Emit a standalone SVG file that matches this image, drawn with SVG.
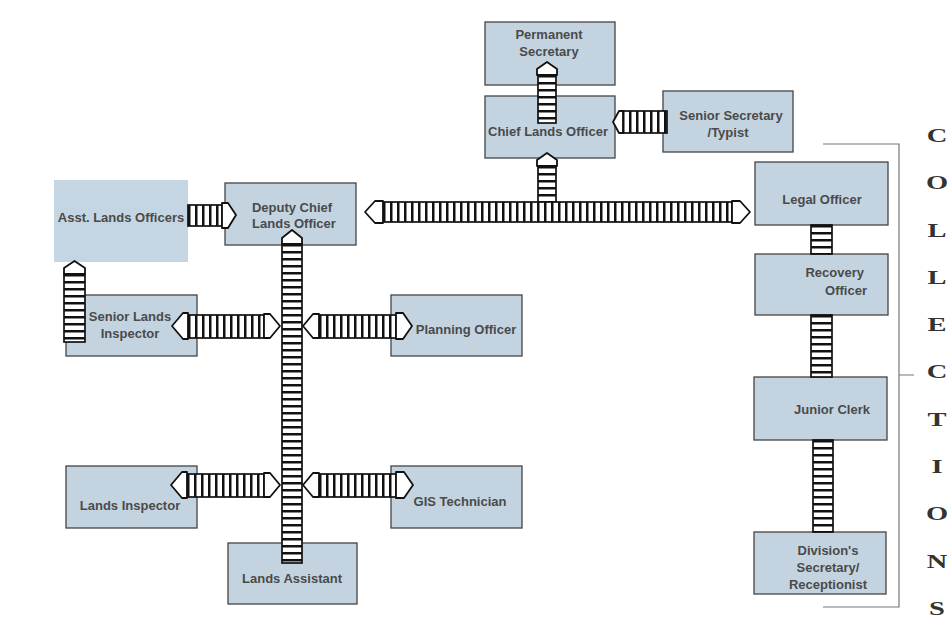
<svg xmlns="http://www.w3.org/2000/svg" width="947" height="622" viewBox="0 0 947 622">
<style>
.box{fill:#c3d4e0;stroke:#444;stroke-width:1.3}
.nb{fill:#c4d6e3;stroke:none}
.t{font-family:"Liberation Sans",Arial,sans-serif;font-weight:bold;font-size:13px;fill:#4a4a4a;text-anchor:middle}
.band{fill:#fff;stroke:#111;stroke-width:1.7}
.rh{stroke:#111;fill:none;stroke-dasharray:2.5 4.5}
.ah{fill:#fff;stroke:#111;stroke-width:1.8;stroke-linejoin:round}
.lt{font-family:"Liberation Serif","Times New Roman",serif;font-weight:bold;font-size:19px;fill:#333;text-anchor:middle}
.br{fill:none;stroke:#777;stroke-width:1.2}
</style>
<rect width="947" height="622" fill="#fff"/>

<g id="permanent-secretary"><rect class="box" x="485" y="22" width="130" height="63"/><text class="t" x="549" y="39">Permanent</text><text class="t" x="549" y="56">Secretary</text></g>
<g id="chief-lands-officer"><rect class="box" x="485" y="96" width="130" height="62"/><text class="t" x="548" y="136">Chief Lands Officer</text></g>
<g id="senior-secretary"><rect class="box" x="663" y="91" width="130" height="61"/><text class="t" x="731" y="120">Senior Secretary</text><text class="t" x="728" y="137">/Typist</text></g>
<g id="asst-lands-officers"><rect class="nb" x="54" y="180" width="134" height="82"/><text class="t" x="121" y="222">Asst. Lands Officers</text></g>
<g id="deputy-chief"><rect class="box" x="225" y="183" width="131" height="62"/><text class="t" x="292" y="212">Deputy Chief</text><text class="t" x="294" y="228">Lands Officer</text></g>
<g id="legal-officer"><rect class="box" x="755" y="162" width="133" height="63"/><text class="t" x="822" y="204">Legal Officer</text></g>
<g id="recovery-officer"><rect class="box" x="755" y="254" width="133" height="61"/><text class="t" x="864" y="277" style="text-anchor:end">Recovery</text><text class="t" x="867" y="295" style="text-anchor:end">Officer</text></g>
<g id="junior-clerk"><rect class="box" x="754" y="377" width="133" height="63"/><text class="t" x="832" y="414">Junior Clerk</text></g>
<g id="divisions-secretary"><rect class="box" x="754" y="532" width="132" height="62"/><text class="t" x="828" y="555">Division's</text><text class="t" x="828" y="572">Secretary/</text><text class="t" x="828" y="589">Receptionist</text></g>
<g id="senior-lands-inspector"><rect class="box" x="66" y="295" width="131" height="61"/><text class="t" x="130" y="321">Senior Lands</text><text class="t" x="130" y="338">Inspector</text></g>
<g id="planning-officer"><rect class="box" x="391" y="295" width="131" height="61"/><text class="t" x="466" y="334">Planning Officer</text></g>
<g id="lands-inspector"><rect class="box" x="66" y="466" width="131" height="62"/><text class="t" x="130" y="510">Lands Inspector</text></g>
<g id="gis-technician"><rect class="box" x="391" y="466" width="131" height="62"/><text class="t" x="460" y="506">GIS Technician</text></g>
<g id="lands-assistant"><rect class="box" x="228" y="543" width="129" height="61"/><text class="t" x="292" y="583">Lands Assistant</text></g>

<g id="collections-label">
<path class="br" d="M823 144 H899 V607 H823 M899 375 H914"/>
<g transform="translate(937,0) scale(1.5,1)">
<text class="lt" x="0" y="142">C</text>
<text class="lt" x="0" y="189">O</text>
<text class="lt" x="0" y="237">L</text>
<text class="lt" x="0" y="284">L</text>
<text class="lt" x="0" y="331">E</text>
<text class="lt" x="0" y="378">C</text>
<text class="lt" x="0" y="426">T</text>
<text class="lt" x="0" y="473">I</text>
<text class="lt" x="0" y="520">O</text>
<text class="lt" x="0" y="568">N</text>
<text class="lt" x="0" y="615">S</text>
</g>
</g>

<g id="connectors">
<!-- Chief -> Permanent -->
<rect class="band" x="538" y="75" width="18" height="48"/>
<line class="rh" x1="547" y1="75" x2="547" y2="123" stroke-width="18"/>
<polygon class="ah" points="547,62 557,69 557,75 537,75 537,69"/>
<!-- Chief down to main bar -->
<rect class="band" x="538" y="166" width="18" height="40"/>
<line class="rh" x1="547" y1="166" x2="547" y2="206" stroke-width="18"/>
<polygon class="ah" points="547,153 557,160 557,166 537,166 537,160"/>
<!-- Senior Secretary -->
<rect class="band" x="622" y="111" width="45" height="22"/>
<line class="rh" x1="622" y1="122" x2="667" y2="122" stroke-width="22"/>
<polygon class="ah" points="613,122 619,111 623,111 623,133 619,133"/>
<!-- Main horizontal bar -->
<rect class="band" x="383" y="202" width="349" height="20"/>
<line class="rh" x1="383" y1="212" x2="732" y2="212" stroke-width="20"/>
<polygon class="ah" points="365,212 375,201 383,201 383,223 375,223"/>
<polygon class="ah" points="750,212 740,201 732,201 732,223 740,223"/>
<!-- Deputy -> Asst -->
<rect class="band" x="188" y="205" width="34" height="21"/>
<line class="rh" x1="188" y1="215.5" x2="222" y2="215.5" stroke-width="21"/>
<polygon class="ah" points="236,215 228,203 222,203 222,228 228,228"/>
<!-- Asst -> Senior Lands Inspector -->
<rect class="band" x="64" y="274" width="21" height="68"/>
<line class="rh" x1="74.5" y1="274" x2="74.5" y2="342" stroke-width="21"/>
<polygon class="ah" points="74.5,261 85,268 85,274 64,274 64,268"/>
<!-- Central stem -->
<rect class="band" x="282" y="244" width="20" height="319"/>
<line class="rh" x1="292" y1="244" x2="292" y2="563" stroke-width="20"/>
<polygon class="ah" points="292,230 302,238 302,244 282,244 282,238"/>
<!-- Senior Lands Inspector branch -->
<rect class="band" x="188" y="315" width="76" height="23"/>
<line class="rh" x1="188" y1="326.5" x2="264" y2="326.5" stroke-width="23"/>
<polygon class="ah" points="172,326 183,313 188,313 188,339 183,339"/>
<polygon class="ah" points="280,326 270,314 264,314 264,338 270,338"/>
<!-- Planning branch -->
<rect class="band" x="319" y="315" width="77" height="23"/>
<line class="rh" x1="319" y1="326.5" x2="396" y2="326.5" stroke-width="23"/>
<polygon class="ah" points="303,326 313,314 319,314 319,338 313,338"/>
<polygon class="ah" points="412,326 403,313 396,313 396,339 403,339"/>
<!-- Lands Inspector branch -->
<rect class="band" x="187" y="474" width="77" height="23"/>
<line class="rh" x1="187" y1="485.5" x2="264" y2="485.5" stroke-width="23"/>
<polygon class="ah" points="171,485 182,472 187,472 187,498 182,498"/>
<polygon class="ah" points="280,485 270,473 264,473 264,497 270,497"/>
<!-- GIS branch -->
<rect class="band" x="319" y="474" width="77" height="23"/>
<line class="rh" x1="319" y1="485.5" x2="396" y2="485.5" stroke-width="23"/>
<polygon class="ah" points="303,485 313,473 319,473 319,497 313,497"/>
<polygon class="ah" points="413,485 404,472 396,472 396,498 404,498"/>
<!-- Right column -->
<rect class="band" x="811" y="225" width="21" height="29"/>
<line class="rh" x1="821.5" y1="225" x2="821.5" y2="254" stroke-width="21"/>
<rect class="band" x="811" y="315" width="21" height="62"/>
<line class="rh" x1="821.5" y1="315" x2="821.5" y2="377" stroke-width="21"/>
<rect class="band" x="813" y="440" width="20" height="92"/>
<line class="rh" x1="823" y1="440" x2="823" y2="532" stroke-width="20"/>
</g>
</svg>
